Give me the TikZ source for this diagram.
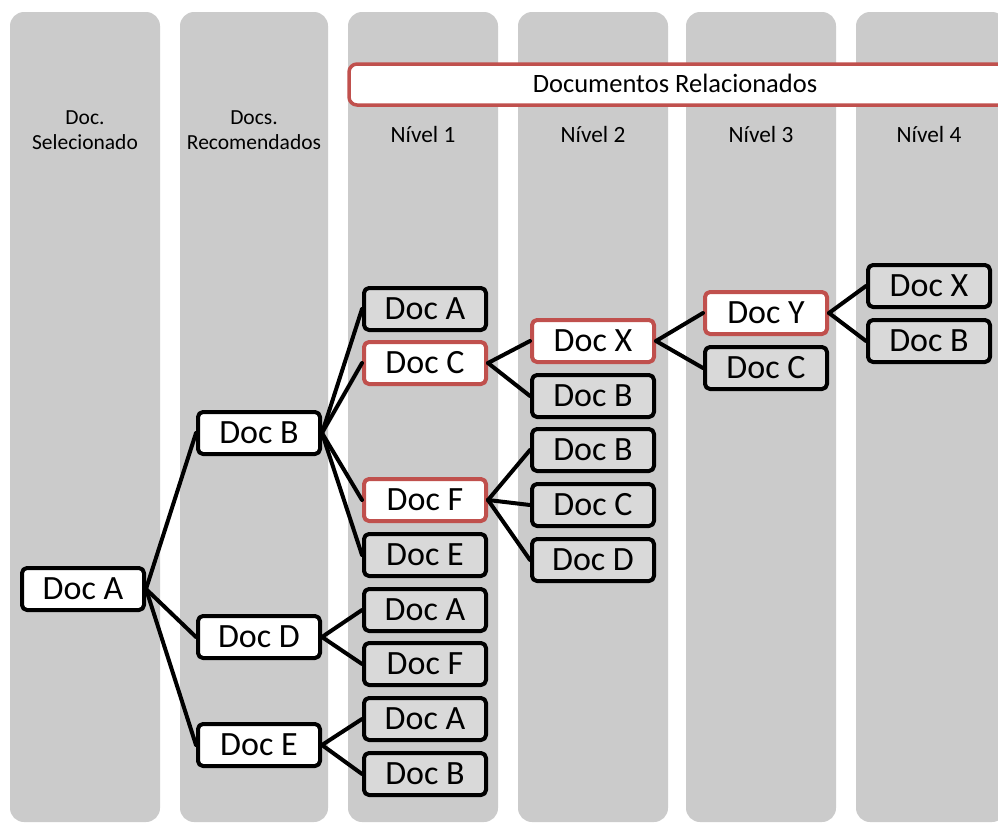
\documentclass[tikz,border=0pt]{standalone}
\usepackage{fontspec}
\setmainfont{Carlito}
\usetikzlibrary{positioning}

\definecolor{colgray}{HTML}{CBCBCB}
\definecolor{docgray}{HTML}{D9D9D9}
\definecolor{docred}{HTML}{C0504D}

\tikzset{
	coluna/.style={fill=colgray,rounded corners=14pt},
	doc/.style={draw=black,line width=4pt,fill=white,rounded corners=5pt,
		minimum width=122pt,minimum height=42pt,inner sep=0pt,
		text height=21.9pt,text depth=0pt,font=\fontsize{34}{40}\selectfont},
	docg/.style={doc,fill=docgray},
	docr/.style={doc,draw=docred},
	titolo/.style={align=center,inner sep=0pt,font=\fontsize{21.5}{25}\selectfont},
	livello/.style={anchor=base,inner sep=0pt,font=\fontsize{23.3}{28}\selectfont},
	lega/.style={line width=4pt,draw=black},
}

\begin{document}
\begin{tikzpicture}[line cap=round,line join=round,x=1pt,y=-1pt]
		\useasboundingbox (0,0) rectangle (998,823);
		\clip (0,0) rectangle (998,823);
		\foreach \xa/\xb in {10/160,180/328,348/498,518/668,686/836,856/1006}
			\fill[coluna] (\xa,12) rectangle (\xb,822);%colonne
		\draw[draw=docred,line width=3.5pt,fill=white,rounded corners=8pt]
			(349,64) rectangle (1012,105);%riquadro rel
		\node[livello,font=\fontsize{26.5}{30}\selectfont] (rel) at (675,92) {Documentos Relacionados};
		\node[titolo] (tsel) at (85,130) {Doc.\\Selecionado};
		\node[titolo] (trec) at (254,130) {Docs.\\Recomendados};
		\node[livello] (niv1) at (423,142) {Nível 1};
		\node[livello] (niv2) at (593,142) {Nível 2};
		\node[livello] (niv3) at (761,142) {Nível 3};
		\node[livello] (niv4) at (929,142) {Nível 4};
		% documenti
		\node[doc] (dA) at (83,589) {Doc A};
		\node[doc] (dB) at (259,433) {Doc B};
		\node[doc] (dD) at (259,637) {Doc D};
		\node[doc] (dE) at (259,745) {Doc E};
		\node[docg] (u1a) at (425,309) {Doc A};%livello 1
		\node[docr] (u1c) at (425,363) {Doc C};
		\node[docr] (u1f) at (425,500) {Doc F};
		\node[docg] (u1e) at (425,555) {Doc E};
		\node[docg] (u1a2) at (425,610) {Doc A};
		\node[docg] (u1f2) at (425,664) {Doc F};
		\node[docg] (u1a3) at (425,719) {Doc A};
		\node[docg] (u1b3) at (425,774) {Doc B};
		\node[docr] (u2x) at (593,341) {Doc X};%livello 2
		\node[docg] (u2b) at (593,396) {Doc B};
		\node[docg] (u2b2) at (593,450) {Doc B};
		\node[docg] (u2c) at (593,505) {Doc C};
		\node[docg] (u2d) at (593,560) {Doc D};
		\node[docr] (u3y) at (766,313) {Doc Y};%livello 3
		\node[docg] (u3c) at (766,368) {Doc C};
		\node[docg] (u4x) at (929,286) {Doc X};%livello 4
		\node[docg] (u4b) at (929,341) {Doc B};
		% collegamenti
		\draw[lega] (dA.east) -- (dB.west);
		\draw[lega] (dA.east) -- (dD.west);
		\draw[lega] (dA.east) -- (dE.west);
		\draw[lega] (dB.east) -- (u1a.west);
		\draw[lega] (dB.east) -- (u1c.west);
		\draw[lega] (dB.east) -- (u1f.west);
		\draw[lega] (dB.east) -- (u1e.west);
		\draw[lega] (dD.east) -- (u1a2.west);
		\draw[lega] (dD.east) -- (u1f2.west);
		\draw[lega] (dE.east) -- (u1a3.west);
		\draw[lega] (dE.east) -- (u1b3.west);
		\draw[lega] (u1c.east) -- (u2x.west);
		\draw[lega] (u1c.east) -- (u2b.west);
		\draw[lega] (u1f.east) -- (u2b2.west);
		\draw[lega] (u1f.east) -- (u2c.west);
		\draw[lega] (u1f.east) -- (u2d.west);
		\draw[lega] (u2x.east) -- (u3y.west);
		\draw[lega] (u2x.east) -- (u3c.west);
		\draw[lega] (u3y.east) -- (u4x.west);
		\draw[lega] (u3y.east) -- (u4b.west);
\end{tikzpicture}
\end{document}
